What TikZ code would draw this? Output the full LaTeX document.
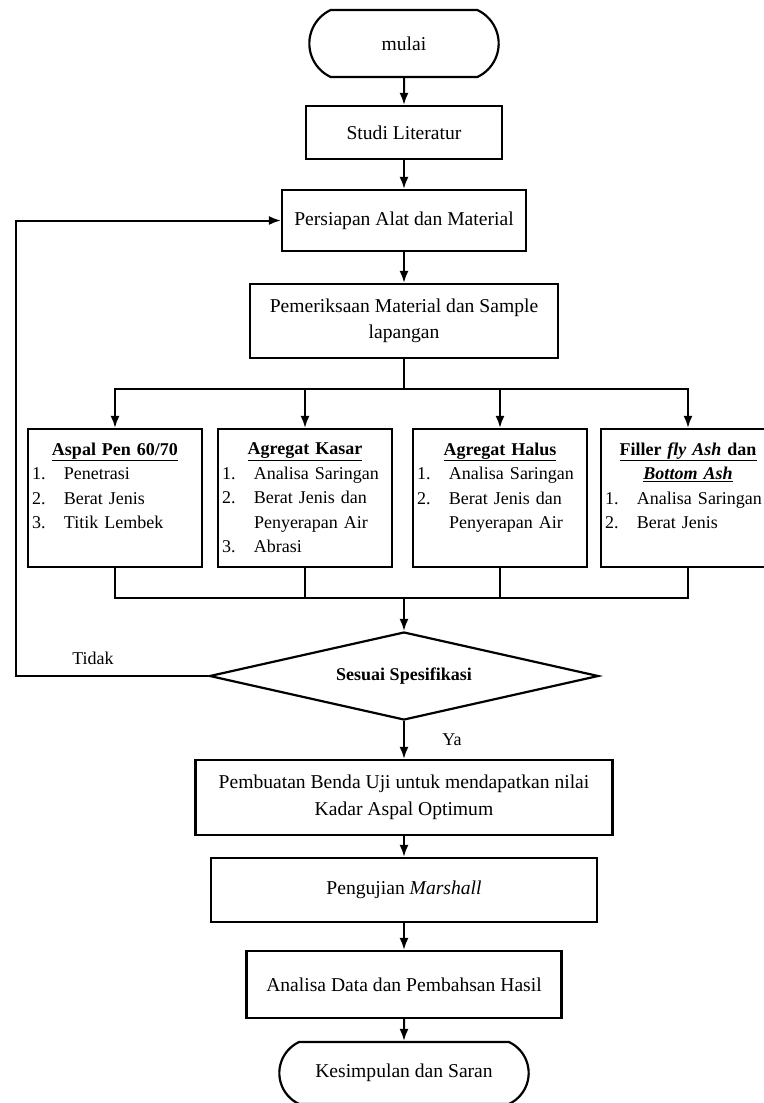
\documentclass[tikz,border=0pt]{standalone}
\usepackage{fontspec}
\setmainfont{Liberation Serif}
\usetikzlibrary{shapes,arrows,arrows.meta}
\tikzstyle{block} = [rectangle, draw, line width=2.2pt, align=center,
    inner sep=2pt, font=\fontsize{19.6}{26.5}\selectfont]
\tikzstyle{terminal} = [rounded rectangle, rounded rectangle arc length=130,
    draw, line width=2.2pt, font=\fontsize{19.6}{26.5}\selectfont]
\tikzstyle{decision} = [diamond, aspect=4.4, draw, line width=2.2pt, inner sep=0pt,
    font=\bfseries\fontsize{18}{22}\selectfont]
\tikzstyle{listbox} = [rectangle, draw, line width=2.2pt, text width=166pt,
    align=center, inner sep=4pt, minimum height=138pt, font=\fontsize{18}{24.5}\selectfont]
\tikzstyle{answer} = [font=\fontsize{18}{22}\selectfont]
\tikzstyle{wire} = [draw, line width=2pt]
\tikzstyle{line} = [draw, line width=2pt, -{Latex[length=12pt,width=9pt]}]
\newcommand{\itm}[2]{\makebox[\linewidth][l]{\makebox[32pt][l]{#1}#2}}

\begin{document}
\begin{tikzpicture}[x=1pt, y=1pt]
    \useasboundingbox (0,0) rectangle (763,-1103);

    % Place nodes
    \node [terminal, minimum width=196pt, minimum height=67pt] (mulai) at (404,-43.5) {mulai};
    \node [block, minimum width=196pt, minimum height=53pt] (studi) at (404,-132.5) {Studi Literatur};
    \node [block, minimum width=244pt, minimum height=61pt] (persiapan) at (404,-220.5) {Persiapan Alat dan Material};
    \node [block, minimum width=308pt, minimum height=74pt] (periksa) at (404,-321) {Pemeriksaan Material dan Sample\\lapangan};
    \node [listbox] (aspal) at (115,-498) {\underline{\textbf{Aspal Pen 60/70}}\\
        \itm{1.}{Penetrasi}\\ \itm{2.}{Berat Jenis}\\ \itm{3.}{Titik Lembek}\\ \mbox{}};
    \node [listbox] (kasar) at (305,-498) {\underline{\textbf{Agregat Kasar}}\\
        \itm{1.}{Analisa Saringan}\\ \itm{2.}{Berat Jenis dan}\\ \itm{}{Penyerapan Air}\\ \itm{3.}{Abrasi}};
    \node [listbox] (halus) at (500,-498) {\underline{\textbf{Agregat Halus}}\\
        \itm{1.}{Analisa Saringan}\\ \itm{2.}{Berat Jenis dan}\\ \itm{}{Penyerapan Air}\\ \mbox{}};
    \node [listbox] (filler) at (688,-498) {\underline{\textbf{Filler \textit{fly Ash} dan}}\\
        \underline{\textbf{\textit{Bottom Ash}}}\\ \itm{1.}{Analisa Saringan}\\ \itm{2.}{Berat Jenis}\\ \mbox{}};
    \node [decision, minimum width=389pt, minimum height=88pt] (sesuai) at (404,-676) {Sesuai Spesifikasi};
    \node [block, minimum width=417pt, minimum height=75pt] (benda) at (404,-797.5) {Pembuatan Benda Uji untuk mendapatkan nilai\\Kadar Aspal Optimum};
    \node [block, minimum width=386pt, minimum height=64pt] (marshall) at (404,-890) {Pengujian \textit{Marshall}};
    \node [block, minimum width=315pt, minimum height=67pt] (analisa) at (404,-984.5) {Analisa Data dan Pembahsan Hasil};
    \node [terminal, minimum width=256pt, minimum height=62pt] (selesai) at (404,-1073) {Kesimpulan dan Saran};

    \coordinate (split) at (404,-389);
    \coordinate (merge) at (404,-598);
    \coordinate (back) at (16,-676);

    % Draw edges
    \path [line] (mulai) -- (studi);
    \path [line] (studi) -- (persiapan);
    \path [line] (persiapan) -- (periksa);
    \path [wire] (periksa) -- (split);
    \path [line] (split) -| (aspal);
    \path [line] (split) -| (kasar);
    \path [line] (split) -| (halus);
    \path [line] (split) -| (filler);
    \path [wire] (aspal) |- (merge);
    \path [wire] (kasar) |- (merge);
    \path [wire] (halus) |- (merge);
    \path [wire] (filler) |- (merge);
    \path [line] (merge) -- (sesuai);
    \path [line] (sesuai) -- node [answer, right=34pt] {Ya} (benda);
    \path [line] (sesuai.west) -- node [answer, above=7pt, pos=0.6] {Tidak} (back) |- (persiapan.west);
    \path [line] (benda) -- (marshall);
    \path [line] (marshall) -- (analisa);
    \path [line] (analisa) -- (selesai);

\end{tikzpicture}
\end{document}
